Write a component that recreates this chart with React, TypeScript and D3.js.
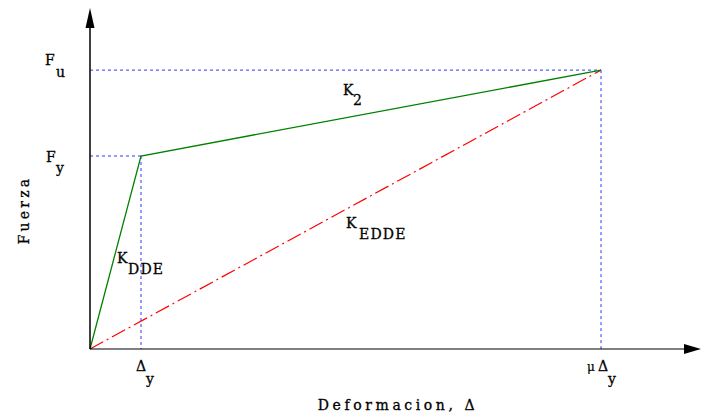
import React from "react";
import * as d3 from "d3";

const W = 701;
const H = 415;

// Abstract units: Δy = 1, Fy = 1
const dyVal = 1;
const muDy = 10.02;
const fyVal = 1;
const fuVal = 1.445;
const xMax = 12;
const yMax = 1.77;

const bilinear: [number, number][] = [
  [0, 0],
  [dyVal, fyVal],
  [muDy, fuVal],
];
const secant: [number, number][] = [
  [0, 0],
  [muDy, fuVal],
];

const xTitle = "Deformacion, Δ";
const yTitle = "Fuerza";

const FONT = "'DejaVu Serif', serif";

export default function App() {
  const x = d3.scaleLinear().domain([0, xMax]).range([90, 702]);
  const y = d3.scaleLinear().domain([0, yMax]).range([349, 7.4]);
  const line = d3
    .line<[number, number]>()
    .x((d) => x(d[0]))
    .y((d) => y(d[1]));

  const x0 = x(0);
  const y0 = y(0);
  const txt = {
    fontFamily: FONT,
    fontSize: 14,
    fill: "#000",
    stroke: "#000",
    strokeWidth: 0.3,
    letterSpacing: 1.2,
  } as const;

  return (
    <svg
      width={W}
      height={H}
      style={{ position: "absolute", left: 0, top: 0, background: "#fff" }}
    >
      {/* guide lines */}
      <g stroke="#3333ff" strokeWidth={1} strokeDasharray="3,3" fill="none">
        <line x1={x0} y1={y(fyVal)} x2={x(dyVal)} y2={y(fyVal)} />
        <line x1={x(dyVal)} y1={y(fyVal)} x2={x(dyVal)} y2={y0} />
        <line x1={x0} y1={y(fuVal)} x2={x(muDy)} y2={y(fuVal)} />
        <line x1={x(muDy)} y1={y(fuVal)} x2={x(muDy)} y2={y0} />
      </g>
      {/* secant */}
      <path
        d={line(secant) || ""}
        stroke="#ff0000"
        strokeWidth={1.2}
        fill="none"
        strokeDasharray="15,4,2,4"
      />
      {/* bilinear */}
      <path
        d={line(bilinear) || ""}
        stroke="#008000"
        strokeWidth={1.3}
        fill="none"
      />
      {/* axes */}
      <line x1={x0} y1={y0} x2={x0} y2={26} stroke="#000" strokeWidth={1.5} />
      <path d={`M${x0},8 L${x0 - 4.5},28 L${x0 + 4.5},28 Z`} fill="#000" />
      <line x1={x0} y1={y0} x2={686} y2={y0} stroke="#000" strokeWidth={1.2} />
      <path d={`M701,${y0} L684,${y0 - 5} L684,${y0 + 5} Z`} fill="#000" />

      {/* labels */}
      <text x={45} y={65} {...txt}>F</text>
      <text x={56} y={77} {...txt}>u</text>
      <text x={46} y={162} {...txt}>F</text>
      <text x={56} y={173} {...txt}>y</text>

      <text x={343} y={95} {...txt}>K</text>
      <text x={353} y={105} {...txt}>2</text>

      <text x={346} y={228} {...txt}>K</text>
      <text x={359} y={239} {...txt}>EDDE</text>

      <text x={117} y={263} {...txt}>K</text>
      <text x={128} y={274} {...txt}>DDE</text>

      <text x={136} y={371} {...txt}>Δ</text>
      <text x={146} y={384} {...txt}>y</text>

      <text x={587} y={371} {...txt} fontSize={12} strokeWidth={0.2}>μ</text>
      <text x={598} y={371} {...txt}>Δ</text>
      <text x={608} y={384} {...txt}>y</text>

      <text x={398} y={410} {...txt} textAnchor="middle" letterSpacing={3.6}>
        {xTitle}
      </text>
      <text
        transform="translate(29,210) rotate(-90)"
        {...txt}
        textAnchor="middle"
        letterSpacing={3.2}
      >
        {yTitle}
      </text>
    </svg>
  );
}
